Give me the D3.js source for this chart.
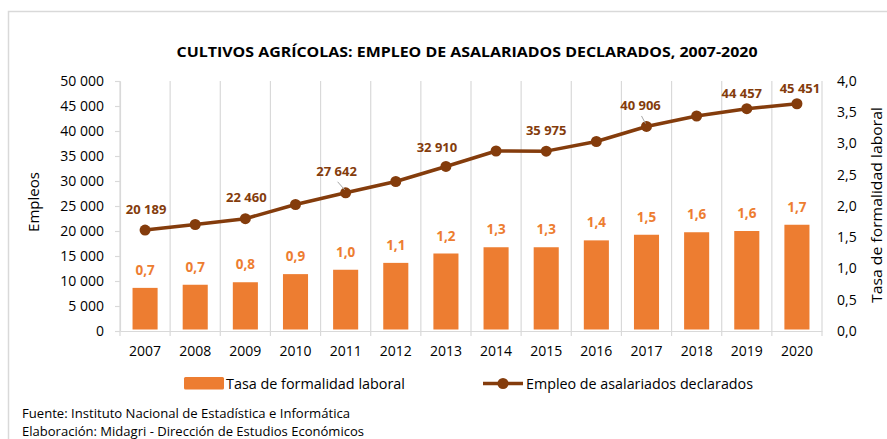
<!DOCTYPE html>
<html>
<head>
<meta charset="utf-8">
<script src="https://cdn.jsdelivr.net/npm/d3@7"></script>
<style>
  body { margin: 0; background: #fff; }
  svg text { font-family: "Open Sans", "Noto Sans", sans-serif; }
</style>
</head>
<body>
<div id="chart"></div>
<script>
// data
var years = ["2007","2008","2009","2010","2011","2012","2013","2014","2015","2016","2017","2018","2019","2020"];
var tasaFormalidad = [0.69, 0.74, 0.78, 0.91, 0.98, 1.09, 1.24, 1.34, 1.34, 1.45, 1.54, 1.58, 1.60, 1.70];
var empleo = [20189, 21300, 22460, 25300, 27642, 29900, 32910, 36000, 35975, 37900, 40906, 43000, 44457, 45451];
// which line points carry a value label (the others had none in the original)
var empleoLabelled = ["2007","2009","2011","2013","2015","2017","2019","2020"];
var leftTicks = [0, 5000, 10000, 15000, 20000, 25000, 30000, 35000, 40000, 45000, 50000];
var rightTicks = [0, 0.5, 1, 1.5, 2, 2.5, 3, 3.5, 4];

// label nudges (dx, dy from the point), leader line for a couple of them
var nudge = {
  "2007": [1, -16], "2009": [1, -17], "2011": [-9, -17, true], "2013": [-9, -14],
  "2015": [0, -16], "2017": [-6, -16.5, true], "2019": [-5, -11], "2020": [3, -11]
};

var svgWidth = 887, svgHeight = 439;
var plot = {left: 120, right: 822, top: 81, bottom: 331};
var barColor = "#ED7D31", lineColor = "#843C0C", gridColor = "#D9D9D9";

var svg = d3.select("#chart").append("svg")
  .attr("width", svgWidth)
  .attr("height", svgHeight);

// outer chart frame
svg.append("rect")
  .attr("x", 8.5).attr("y", 11.5)
  .attr("width", 900).attr("height", 450)
  .attr("fill", "none")
  .attr("stroke", gridColor)
  .attr("stroke-width", 1.5);

// title
svg.append("text")
  .attr("x", 467).attr("y", 57)
  .attr("text-anchor", "middle")
  .attr("font-size", 15).attr("font-weight", "bold")
  .attr("textLength", 581).attr("lengthAdjust", "spacingAndGlyphs")
  .text("CULTIVOS AGRÍCOLAS: EMPLEO DE ASALARIADOS DECLARADOS, 2007-2020");

// scales
var x = d3.scaleBand().domain(years).range([plot.left, plot.right]);
var xBar = d3.scaleBand().domain(years).range([plot.left, plot.right])
  .paddingInner(0.5).paddingOuter(0.25);
var yLeft = d3.scaleLinear().domain([0, 50000]).range([plot.bottom, plot.top]);
var yRight = d3.scaleLinear().domain([0, 4]).range([plot.bottom, plot.top]);

// vertical grid at category boundaries, with small ticks below the axis
var bounds = years.map(function(d) { return x(d); }).concat([plot.right]);
svg.append("g").selectAll("line")
  .data(bounds)
  .enter().append("line")
  .attr("x1", d => d).attr("x2", d => d)
  .attr("y1", plot.top).attr("y2", plot.bottom + 5)
  .attr("stroke", gridColor).attr("stroke-width", 1.2);

// left axis
var fmtEmp = function(d) { return d3.format(",")(d).replace(/,/g, " "); };
var leftAxis = svg.append("g")
  .attr("transform", `translate(${plot.left},0)`)
  .call(d3.axisLeft(yLeft).tickValues(leftTicks).tickFormat(fmtEmp).tickSize(5).tickSizeOuter(0).tickPadding(11));
leftAxis.select(".domain").attr("stroke", gridColor).attr("stroke-width", 1.2);
leftAxis.selectAll(".tick line").attr("stroke", gridColor).attr("stroke-width", 1.2);
leftAxis.selectAll("text").attr("font-size", 14).attr("fill", "#000");

// right axis
var rightAxis = svg.append("g")
  .attr("transform", `translate(${plot.right},0)`)
  .call(d3.axisRight(yRight).tickValues(rightTicks)
    .tickFormat(d => d3.format(".1f")(d).replace(".", ","))
    .tickSize(0).tickPadding(15));
rightAxis.select(".domain").remove();
rightAxis.selectAll("text").attr("font-size", 14).attr("fill", "#000");

// bottom axis (year labels)
var bottomAxis = svg.append("g")
  .attr("transform", `translate(0,${plot.bottom})`)
  .call(d3.axisBottom(x).tickSize(0).tickPadding(15));
bottomAxis.select(".domain").attr("stroke", gridColor).attr("stroke-width", 1.2);
bottomAxis.selectAll("text").attr("font-size", 14).attr("fill", "#000");

// bars
svg.append("g").selectAll("rect")
  .data(tasaFormalidad)
  .enter().append("rect")
  .attr("x", (d, i) => xBar(years[i]))
  .attr("y", d => yRight(d))
  .attr("width", xBar.bandwidth())
  .attr("height", d => plot.bottom - yRight(d) - 1.5)
  .attr("fill", barColor);

svg.append("g").selectAll("text")
  .data(tasaFormalidad)
  .enter().append("text")
  .attr("x", (d, i) => x(years[i]) + x.bandwidth() / 2)
  .attr("y", d => yRight(d) - 13)
  .attr("text-anchor", "middle")
  .attr("font-size", 13.5).attr("font-weight", "bold")
  .attr("fill", barColor)
  .text(d => d3.format(".1f")(d).replace(".", ","));

// line
var pts = years.map(function(y, i) { return {year: y, value: empleo[i]}; });
var cx = d => x(d.year) + x.bandwidth() / 2;

svg.append("path")
  .datum(pts)
  .attr("fill", "none")
  .attr("stroke", lineColor)
  .attr("stroke-width", 3.5)
  .attr("stroke-linejoin", "round")
  .attr("d", d3.line().x(cx).y(d => yLeft(d.value)));

svg.append("g").selectAll("circle")
  .data(pts)
  .enter().append("circle")
  .attr("cx", cx)
  .attr("cy", d => yLeft(d.value))
  .attr("r", 5.5)
  .attr("fill", lineColor);

var labelled = pts.filter(d => empleoLabelled.indexOf(d.year) >= 0);

// leader lines
svg.append("g").selectAll("line")
  .data(labelled.filter(d => nudge[d.year][2]))
  .enter().append("line")
  .attr("x1", d => cx(d) + nudge[d.year][0] + 1)
  .attr("y1", d => yLeft(d.value) + nudge[d.year][1] + 6)
  .attr("x2", d => cx(d) - 1)
  .attr("y2", d => yLeft(d.value) - 3)
  .attr("stroke", "#A6A6A6").attr("stroke-width", 1);

svg.append("g").selectAll("text")
  .data(labelled)
  .enter().append("text")
  .attr("x", d => cx(d) + nudge[d.year][0])
  .attr("y", d => yLeft(d.value) + nudge[d.year][1])
  .attr("text-anchor", "middle")
  .attr("font-size", 13).attr("font-weight", "bold")
  .attr("fill", lineColor)
  .text(d => fmtEmp(d.value));

// axis titles
svg.append("text")
  .attr("transform", "translate(39,202) rotate(-90)")
  .attr("text-anchor", "middle")
  .attr("font-size", 15)
  .text("Empleos");

svg.append("text")
  .attr("transform", "translate(882,205) rotate(-90)")
  .attr("text-anchor", "middle")
  .attr("font-size", 15)
  .attr("textLength", 196).attr("lengthAdjust", "spacingAndGlyphs")
  .text("Tasa de formalidad laboral");

// legend
var legend = svg.append("g");
legend.append("rect")
  .attr("x", 184).attr("y", 377)
  .attr("width", 40).attr("height", 12.5)
  .attr("rx", 1.5)
  .attr("fill", barColor);
legend.append("text")
  .attr("x", 226).attr("y", 388.5)
  .attr("font-size", 14.5)
  .attr("textLength", 179).attr("lengthAdjust", "spacingAndGlyphs")
  .text("Tasa de formalidad laboral");
legend.append("line")
  .attr("x1", 483).attr("x2", 523)
  .attr("y1", 383.5).attr("y2", 383.5)
  .attr("stroke", lineColor).attr("stroke-width", 3.5);
legend.append("circle")
  .attr("cx", 503).attr("cy", 383.5).attr("r", 5.5)
  .attr("fill", lineColor);
legend.append("text")
  .attr("x", 526).attr("y", 388.5)
  .attr("font-size", 14.5)
  .attr("textLength", 227).attr("lengthAdjust", "spacingAndGlyphs")
  .text("Empleo de asalariados declarados");

// source notes
svg.append("text")
  .attr("x", 22).attr("y", 418)
  .attr("font-size", 12)
  .attr("textLength", 328).attr("lengthAdjust", "spacingAndGlyphs")
  .text("Fuente: Instituto Nacional de Estadística e Informática");
svg.append("text")
  .attr("x", 22).attr("y", 436)
  .attr("font-size", 12)
  .attr("textLength", 342).attr("lengthAdjust", "spacingAndGlyphs")
  .text("Elaboración: Midagri - Dirección de Estudios Económicos");
</script>
</body>
</html>
